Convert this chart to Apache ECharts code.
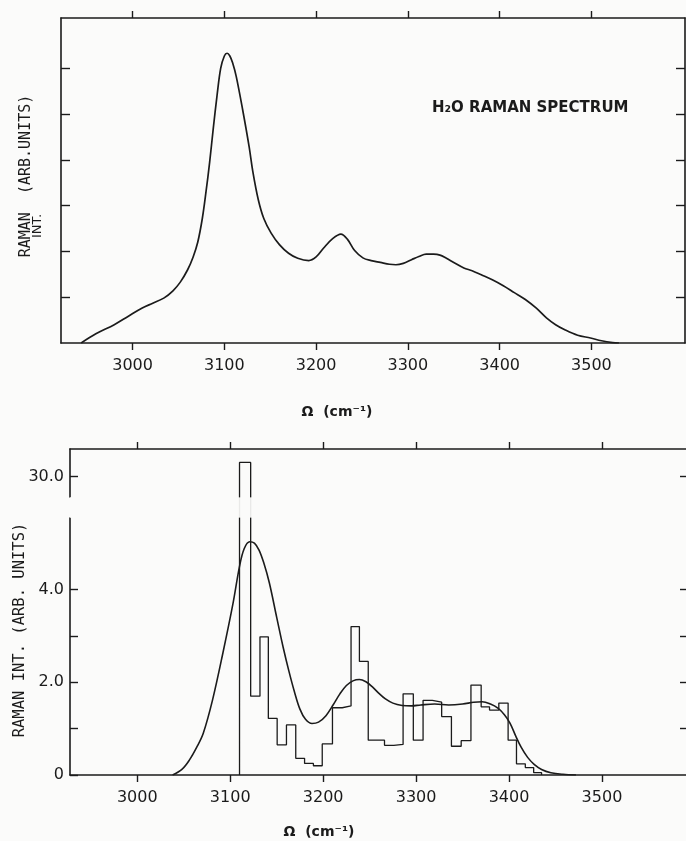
<!DOCTYPE html>
<html>
<head>
<meta charset="utf-8">
<script src="https://cdn.jsdelivr.net/npm/echarts@6/dist/echarts.min.js"></script>
<style>
  html, body { margin: 0; padding: 0; background: #fbfbfa; }
  #chart { width: 686px; height: 841px; }
</style>
</head>
<body>
<div id="chart"></div>
<script>
// ---- Upper panel: measured H2O Raman spectrum (arbitrary units) ----
const specWave = [2944, 2960, 2980, 2995, 3010, 3022, 3034, 3044, 3052, 3060, 3066, 3071, 3076, 3080, 3084, 3088,
  3092, 3096, 3100, 3103, 3106, 3109, 3113, 3120, 3127, 3131, 3137, 3143, 3151, 3160, 3170, 3180, 3192, 3200,
  3208, 3218, 3227, 3234, 3242, 3251, 3260, 3270, 3280, 3287, 3295, 3304, 3312, 3320, 3328, 3335, 3342, 3350,
  3361, 3370, 3380, 3392, 3404, 3416, 3428, 3440, 3451, 3461, 3471, 3485, 3499, 3511, 3523, 3530];
const specInt = [0, 0.20, 0.40, 0.58, 0.76, 0.87, 0.98, 1.14, 1.33, 1.60, 1.88, 2.20, 2.72, 3.30, 3.95, 4.70,
  5.40, 6.00, 6.27, 6.33, 6.27, 6.12, 5.82, 5.09, 4.29, 3.75, 3.13, 2.72, 2.40, 2.15, 1.96, 1.85, 1.80, 1.88,
  2.07, 2.28, 2.38, 2.27, 2.02, 1.86, 1.80, 1.76, 1.72, 1.71, 1.74, 1.82, 1.89, 1.94, 1.94, 1.92, 1.85, 1.76,
  1.64, 1.58, 1.49, 1.38, 1.25, 1.10, 0.95, 0.76, 0.55, 0.40, 0.29, 0.17, 0.11, 0.05, 0.01, 0];

// ---- Lower panel: histogram (bin edges in cm-1, heights in arb. units) ----
const binEdges = [3110, 3122, 3132, 3141, 3150.5, 3160.5, 3170.5, 3180, 3189.5, 3199, 3210, 3220.5, 3230, 3239,
  3248.5, 3257, 3266, 3276, 3286, 3297, 3307.5, 3317.5, 3327.5, 3338, 3348.5, 3359, 3370, 3379, 3389, 3399,
  3408, 3417.5, 3426.5, 3435];
const binHeights = [30.3, 1.70, 2.98, 1.22, 0.65, 1.08, 0.36, 0.25, 0.20, 0.67, 1.45, 1.49, 3.20, 2.45, 0.75,
  0.75, 0.64, 0.66, 1.75, 0.75, 1.61, 1.57, 1.26, 0.62, 0.74, 1.94, 1.47, 1.40, 1.55, 0.75, 0.24, 0.16, 0.05];

// ---- Lower panel: smoothed spectrum ----
const fitWave = [3038, 3048, 3056, 3064, 3071, 3081, 3092, 3103, 3110, 3115, 3121, 3126, 3131, 3136, 3142, 3150,
  3157, 3163, 3169, 3175, 3181, 3188, 3195, 3203, 3211, 3218, 3225, 3232, 3239, 3246, 3253, 3260, 3267, 3275,
  3285, 3295, 3305, 3320, 3335, 3350, 3362, 3371, 3380, 3388, 3395, 3401, 3407, 3413, 3420, 3427, 3435, 3445,
  3458, 3472];
const fitInt = [0, 0.12, 0.32, 0.60, 0.90, 1.62, 2.62, 3.70, 4.50, 4.88, 5.03, 5.00, 4.85, 4.58, 4.15, 3.40,
  2.75, 2.25, 1.80, 1.42, 1.20, 1.11, 1.14, 1.28, 1.52, 1.75, 1.93, 2.03, 2.06, 2.01, 1.90, 1.76, 1.64, 1.55,
  1.50, 1.49, 1.51, 1.53, 1.51, 1.53, 1.57, 1.58, 1.53, 1.44, 1.30, 1.12, 0.85, 0.60, 0.38, 0.23, 0.12, 0.05,
  0.015, 0];

// ---- Axis ticks and labels ----
const waveTicks = [3000, 3100, 3200, 3300, 3400, 3500];
const upperIntTicks = [1, 2, 3, 4, 5, 6];
const lowerIntTicks = [0, 1, 2, 3, 4, 30];
const lowerIntRightTicks = [1, 2, 3, 4, 30];
const lowerIntLabels = [0, 2, 4, 30];

const ink = '#1b1b1b';
const paper = '#fbfbfa';
const labelFont = { color: ink, fontSize: 16, fontFamily: 'DejaVu Sans' };

const zip = (xs, ys) => xs.map((x, i) => [x, ys[i]]);

// histogram outline as one stepped path
const histPath = [[binEdges[0], 0]];
binHeights.forEach((h, i) => {
  histPath.push([binEdges[i], h]);
  histPath.push([binEdges[i + 1], h]);
});
histPath.push([binEdges[binEdges.length - 1], 0]);

function waveAxis(gridIndex, position, min, max, withLabels) {
  return {
    gridIndex, type: 'value', position, min, max,
    axisLine: { show: true, onZero: false, lineStyle: { color: ink, width: 1.6 } },
    axisTick: { show: true, inside: false, length: 7, customValues: waveTicks, lineStyle: { color: ink, width: 1.4 } },
    axisLabel: Object.assign({
      show: withLabels, customValues: waveTicks, margin: 15,
      formatter: v => String(Math.round(v))
    }, labelFont),
    splitLine: { show: false }
  };
}

const lowerBreak = [{ start: 5.55, end: 29.55, gap: 0.44 }];
const lowerBreakArea = {
  show: true, expandOnClick: false, zigzagAmplitude: 0,
  itemStyle: { color: paper, opacity: 0.72, borderWidth: 0, borderColor: 'transparent' }
};

const option = {
  backgroundColor: paper,
  animation: false,
  grid: [
    { left: 61, top: 18, width: 624, height: 325 },
    { left: 70, top: 449, width: 618, height: 326 }
  ],
  xAxis: [
    waveAxis(0, 'bottom', 2922, 3602, true),
    waveAxis(0, 'top', 2922, 3602, false),
    waveAxis(1, 'bottom', 2927.6, 3590.4, true),
    waveAxis(1, 'top', 2927.6, 3590.4, false)
  ],
  yAxis: [
    {
      gridIndex: 0, type: 'value', position: 'left', min: 0, max: 7.1,
      axisLine: { show: true, onZero: false, lineStyle: { color: ink, width: 1.6 } },
      axisTick: { show: true, inside: true, length: 9, customValues: upperIntTicks, lineStyle: { color: ink, width: 1.4 } },
      axisLabel: { show: false }, splitLine: { show: false }
    },
    {
      gridIndex: 0, type: 'value', position: 'right', min: 0, max: 7.1,
      axisLine: { show: true, onZero: false, lineStyle: { color: ink, width: 1.6 } },
      axisTick: { show: true, inside: true, length: 9, customValues: upperIntTicks, lineStyle: { color: ink, width: 1.4 } },
      axisLabel: { show: false }, splitLine: { show: false }
    },
    {
      gridIndex: 1, type: 'value', position: 'left', min: 0, max: 30.59,
      breaks: lowerBreak, breakArea: lowerBreakArea,
      axisLine: { show: true, onZero: false, lineStyle: { color: ink, width: 1.6 } },
      axisTick: { show: true, inside: true, length: 8, customValues: lowerIntTicks, lineStyle: { color: ink, width: 1.4 } },
      axisLabel: Object.assign({
        show: true, margin: 6, customValues: lowerIntLabels,
        formatter: v => (v === 0 ? '0' : Number(v).toFixed(1))
      }, labelFont),
      splitLine: { show: false }
    },
    {
      gridIndex: 1, type: 'value', position: 'right', min: 0, max: 30.59,
      breaks: lowerBreak, breakArea: lowerBreakArea,
      axisLine: { show: false },
      axisTick: { show: true, inside: true, length: 6, customValues: lowerIntRightTicks, lineStyle: { color: ink, width: 1.4 } },
      axisLabel: { show: false }, splitLine: { show: false }
    }
  ],
  series: [
    {
      type: 'line', xAxisIndex: 0, yAxisIndex: 0, data: zip(specWave, specInt),
      smooth: 0.35, symbol: 'none', lineStyle: { color: ink, width: 1.7 }
    },
    {
      type: 'line', xAxisIndex: 2, yAxisIndex: 2, data: histPath,
      smooth: false, symbol: 'none', lineStyle: { color: ink, width: 1.3 }
    },
    {
      type: 'line', xAxisIndex: 2, yAxisIndex: 2, data: zip(fitWave, fitInt),
      smooth: 0.35, symbol: 'none', lineStyle: { color: ink, width: 1.6 }
    }
  ],
  graphic: [
    { type: 'text', x: 26, y: 176, rotation: Math.PI / 2,
      style: { text: 'RAMAN  (ARB.UNITS)', fontSize: 15, fontFamily: 'DejaVu Sans Mono', fill: ink, align: 'center', verticalAlign: 'middle' } },
    { type: 'text', x: 38, y: 226, rotation: Math.PI / 2,
      style: { text: 'INT.', fontSize: 13, fontFamily: 'DejaVu Sans', fill: ink, align: 'center', verticalAlign: 'middle' } },
    { type: 'text', x: 432, y: 108,
      style: { text: 'H₂O RAMAN SPECTRUM', fontSize: 15, fontWeight: 'bold', fontFamily: 'DejaVu Sans', fill: ink, align: 'left', verticalAlign: 'middle' } },
    { type: 'text', x: 337, y: 412,
      style: { text: 'Ω  (cm⁻¹)', fontSize: 14, fontWeight: 'bold', fontFamily: 'DejaVu Sans', fill: ink, align: 'center', verticalAlign: 'middle' } },
    { type: 'text', x: 20, y: 630, rotation: Math.PI / 2,
      style: { text: 'RAMAN INT. (ARB. UNITS)', fontSize: 15.5, fontFamily: 'DejaVu Sans Mono', fill: ink, align: 'center', verticalAlign: 'middle' } },
    { type: 'text', x: 319, y: 832,
      style: { text: 'Ω  (cm⁻¹)', fontSize: 14, fontWeight: 'bold', fontFamily: 'DejaVu Sans', fill: ink, align: 'center', verticalAlign: 'middle' } }
  ]
};

const chart = echarts.init(document.getElementById('chart'), null, { renderer: 'canvas' });
chart.setOption(option);
</script>
</body>
</html>
